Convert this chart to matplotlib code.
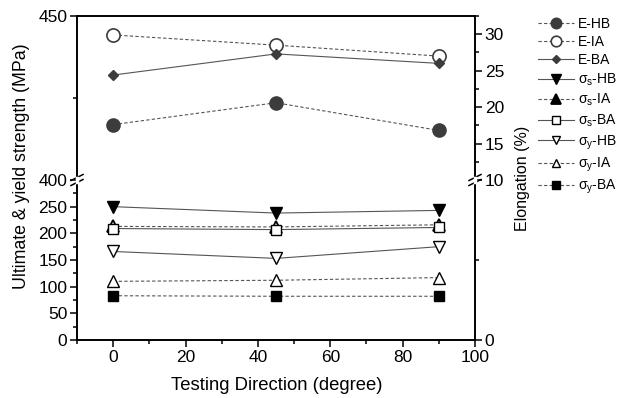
import matplotlib
matplotlib.use("Agg")
import matplotlib.pyplot as plt
from matplotlib.ticker import MultipleLocator, FixedLocator
from matplotlib.lines import Line2D

plt.rcParams['font.family'] = ['Liberation Sans', 'DejaVu Sans']
plt.rcParams['mathtext.fontset'] = 'custom'
plt.rcParams['mathtext.rm'] = 'Liberation Sans'

# testing direction (degree)
direcao = [0, 45, 90]

# elongation (%) - right axis, upper part
e_hb = [17.6, 20.6, 16.8]
e_ia = [29.9, 28.5, 27.0]
e_ba = [24.4, 27.3, 26.0]

# strengths (MPa) - left axis, lower part
s_s_hb = [250, 238, 243]
s_s_ia = [213, 212, 216]
s_s_ba = [209, 207, 211]
s_y_hb = [166, 153, 175]
s_y_ia = [110, 112, 117]
s_y_ba = [83, 82, 82]

cinza = '#555555'

fig = plt.figure(figsize=(6.22, 3.98), dpi=100)
W, H = 622, 398
x0, x1 = 77, 475
y_top, y_break, y_bot = 16, 180, 340

ax_sup = fig.add_axes([x0 / W, 1 - y_break / H, (x1 - x0) / W, (y_break - y_top) / H])
ax_inf = fig.add_axes([x0 / W, 1 - y_bot / H, (x1 - x0) / W, (y_bot - y_break) / H])
ax_sup_d = ax_sup.twinx()
ax_inf_d = ax_inf.twinx()

linhas = []

# elongation series
l, = ax_sup_d.plot(direcao, e_hb, ls=(0, (3, 2)), color=cinza, lw=0.8, marker='o', ms=9.5,
                   mfc='#3c3c3c', mec='#3c3c3c', label='E-HB')
linhas.append(l)
l, = ax_sup_d.plot(direcao, e_ia, ls=(0, (3, 2)), color=cinza, lw=0.8, marker='o', ms=9.5,
                   mfc='white', mec='#3c3c3c', mew=1.2, label='E-IA')
linhas.append(l)
l, = ax_sup_d.plot(direcao, e_ba, ls='-', color=cinza, lw=0.8, marker='D', ms=5,
                   mfc='#3c3c3c', mec='#3c3c3c', label='E-BA')
linhas.append(l)

# strength series
l, = ax_inf.plot(direcao, s_s_hb, ls='-', color=cinza, lw=0.8, marker='v', ms=9,
                 mfc='black', mec='black', label='σ$_\\mathregular{s}$-HB')
linhas.append(l)
l, = ax_inf.plot(direcao, s_s_ia, ls=(0, (3, 2)), color=cinza, lw=0.8, marker='^', ms=9,
                 mfc='white', mec='black', mew=1.3, label='σ$_\\mathregular{s}$-IA')
linhas.append(l)
l, = ax_inf.plot(direcao, s_s_ba, ls='-', color=cinza, lw=0.8, marker='s', ms=7,
                 mfc='white', mec='black', mew=1.0, label='σ$_\\mathregular{s}$-BA')
linhas.append(l)
l, = ax_inf.plot(direcao, s_y_hb, ls='-', color=cinza, lw=0.8, marker='v', ms=8,
                 mfc='white', mec='black', mew=1.0, label='σ$_\\mathregular{y}$-HB')
linhas.append(l)
l, = ax_inf.plot(direcao, s_y_ia, ls=(0, (3, 2)), color=cinza, lw=0.8, marker='^', ms=8,
                 mfc='white', mec='black', mew=1.0, label='σ$_\\mathregular{y}$-IA')
linhas.append(l)
l, = ax_inf.plot(direcao, s_y_ba, ls=(0, (3, 2)), color=cinza, lw=0.8, marker='s', ms=7,
                 mfc='black', mec='black', label='σ$_\\mathregular{y}$-BA')
linhas.append(l)

# limits and ticks
for ax in (ax_sup, ax_inf):
    ax.set_xlim(-10, 100)

ax_sup.set_ylim(400, 450)
ax_sup.yaxis.set_major_locator(FixedLocator([400, 450]))
ax_sup.yaxis.set_minor_locator(FixedLocator([425]))
ax_sup_d.set_ylim(10, 32.5)
ax_sup_d.yaxis.set_major_locator(FixedLocator([10, 15, 20, 25, 30]))
ax_sup_d.yaxis.set_minor_locator(FixedLocator([12.5, 17.5, 22.5, 27.5, 32.5]))

ax_inf.set_ylim(0, 300)
ax_inf.yaxis.set_major_locator(FixedLocator([0, 50, 100, 150, 200, 250]))
ax_inf.yaxis.set_minor_locator(FixedLocator([25, 75, 125, 175, 225, 275]))
ax_inf_d.set_ylim(0, 10)
ax_inf_d.yaxis.set_major_locator(FixedLocator([0]))
ax_inf_d.yaxis.set_minor_locator(FixedLocator([5]))

ax_inf.xaxis.set_major_locator(MultipleLocator(20))
ax_inf.xaxis.set_minor_locator(MultipleLocator(10))
ax_sup.set_xticks([])
ax_sup_d.set_xticks([])

for ax in (ax_sup, ax_inf, ax_sup_d, ax_inf_d):
    ax.tick_params(which='major', direction='out', length=5, width=1.1, labelsize=12.5, pad=2)
    ax.tick_params(which='minor', direction='out', length=3, width=1.1)
    for s in ax.spines.values():
        s.set_linewidth(1.2)

ax_sup.spines['bottom'].set_visible(False)
ax_sup_d.spines['bottom'].set_visible(False)
ax_inf.spines['top'].set_visible(False)
ax_inf_d.spines['top'].set_visible(False)

# break marks on both spines
for xb in (x0, x1):
    for dy in (-2.5, 2.5):
        fig.add_artist(Line2D([(xb - 6) / W, (xb + 6) / W],
                              [1 - (y_break + dy + 3) / H, 1 - (y_break + dy - 3) / H],
                              color='black', lw=1.1))
    fig.add_artist(Line2D([xb / W, xb / W], [1 - (y_break + 2) / H, 1 - (y_break - 2) / H],
                          color='white', lw=2.5))

# axis labels
fig.text(22 / W, 1 - 166 / H, 'Ultimate & yield strength (MPa)', rotation=90,
         ha='center', va='center', fontsize=12.8)
fig.text(522 / W, 1 - 178 / H, 'Elongation (%)', rotation=90,
         ha='center', va='center', fontsize=11.5)
fig.text(277 / W, 1 - 385 / H, 'Testing Direction (degree)', ha='center', va='center', fontsize=13.3)

leg = fig.legend(handles=linhas, loc='upper left', bbox_to_anchor=(538 / W, 1 - 17 / H),
                 frameon=False, fontsize=10, labelspacing=0.3, handlelength=2.6,
                 handletextpad=0.3, borderpad=0, borderaxespad=0, markerscale=0.8)
leg.legend_handles[4].set_markerfacecolor('black')

fig.savefig('out.png', dpi=100)
